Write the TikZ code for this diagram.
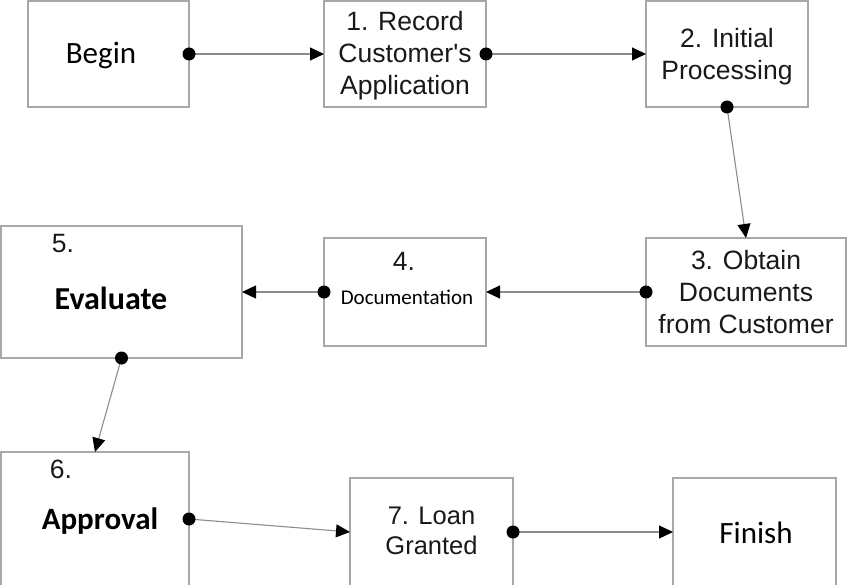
\documentclass[tikz,border=0pt]{standalone}
\usepackage{fontspec}
\usetikzlibrary{arrows.meta}
\newfontfamily\arialf{Liberation Sans}
\newfontfamily\calibrif{Carlito}
\definecolor{boxgray}{HTML}{A8A8A8}
\definecolor{linegray}{HTML}{8C8C8C}
\begin{document}
\begin{tikzpicture}[x=1pt,y=-1pt,
  box/.style={draw=boxgray, line width=1.6pt, fill=white, inner sep=0pt, outer sep=0pt},
  atxt/.style={font=\arialf\fontsize{26.5}{32}\selectfont, align=center, text=black!90},
  ctxt/.style={font=\calibrif\fontsize{31}{36}\selectfont, text=black},
  btxt/.style={font=\calibrif\bfseries\fontsize{32}{36}\selectfont, text=black},
  conn/.style={draw=linegray, line width=1.1pt, -{Triangle[length=14pt,width=13pt,color=black]}},
  dotc/.style={fill=black}
]
\useasboundingbox (0,0) rectangle (850,585);
% boxes
\node[box, minimum width=161, minimum height=106] (beg) at (108.5,54) {};
\node[box, minimum width=162, minimum height=106] (r1) at (405,54) {};
\node[box, minimum width=162, minimum height=106] (p2) at (727,54) {};
\node[box, minimum width=200, minimum height=108] (o3) at (746,292) {};
\node[box, minimum width=162, minimum height=108] (d4) at (405,292) {};
\node[box, minimum width=241, minimum height=132] (ev) at (121.5,292) {};
\node[box, minimum width=188, minimum height=134] (ap) at (95,519) {};
\node[box, minimum width=163, minimum height=108] (lg) at (431.5,532) {};
\node[box, minimum width=163, minimum height=108] (fin) at (754.5,532) {};
% texts
\node[ctxt] (tbeg) at (101,55.5) {Begin};
\node[atxt] (tr1) at (405,55.5) {1. Record\\Customer's\\Application};
\node[atxt] (tp2) at (727,56.5) {2. Initial\\Processing};
\node[atxt] (to3) at (746,292) {3. Obtain\\Documents\\from Customer};
\node[atxt] (td4n) at (404,261) {4.};
\node[font=\calibrif\fontsize{21}{24}\selectfont] (td4) at (407,297) {Documentation};
\node[atxt] (tev5) at (63,244) {5.};
\node[btxt] (tev) at (111,298) {Evaluate};
\node[atxt] (tap6) at (61,469) {6.};
\node[btxt, font=\calibrif\bfseries\fontsize{31}{36}\selectfont] (tap) at (100,521) {Approval};
\node[atxt, font=\arialf\fontsize{25.5}{30}\selectfont] (tlg) at (431.5,531) {7. Loan\\Granted};
\node[ctxt] (tfin) at (756,533) {Finish};
% connectors
\draw[conn] (beg.east) -- (r1.west);
\draw[conn] (r1.east) -- (p2.west);
\draw[conn] (p2.south) -- (o3.north);
\draw[conn] (o3.west) -- (d4.east);
\draw[conn] (d4.west) -- (ev.east);
\draw[conn] (ev.south) -- (ap.north);
\draw[conn] (ap.east) -- (lg.west);
\draw[conn] (lg.east) -- (fin.west);
% dots
\foreach \p in {beg.east, r1.east, p2.south, o3.west, d4.west, ev.south, ap.east, lg.east}
  \fill[dotc] (\p) circle[radius=6.5];
\end{tikzpicture}
\end{document}
